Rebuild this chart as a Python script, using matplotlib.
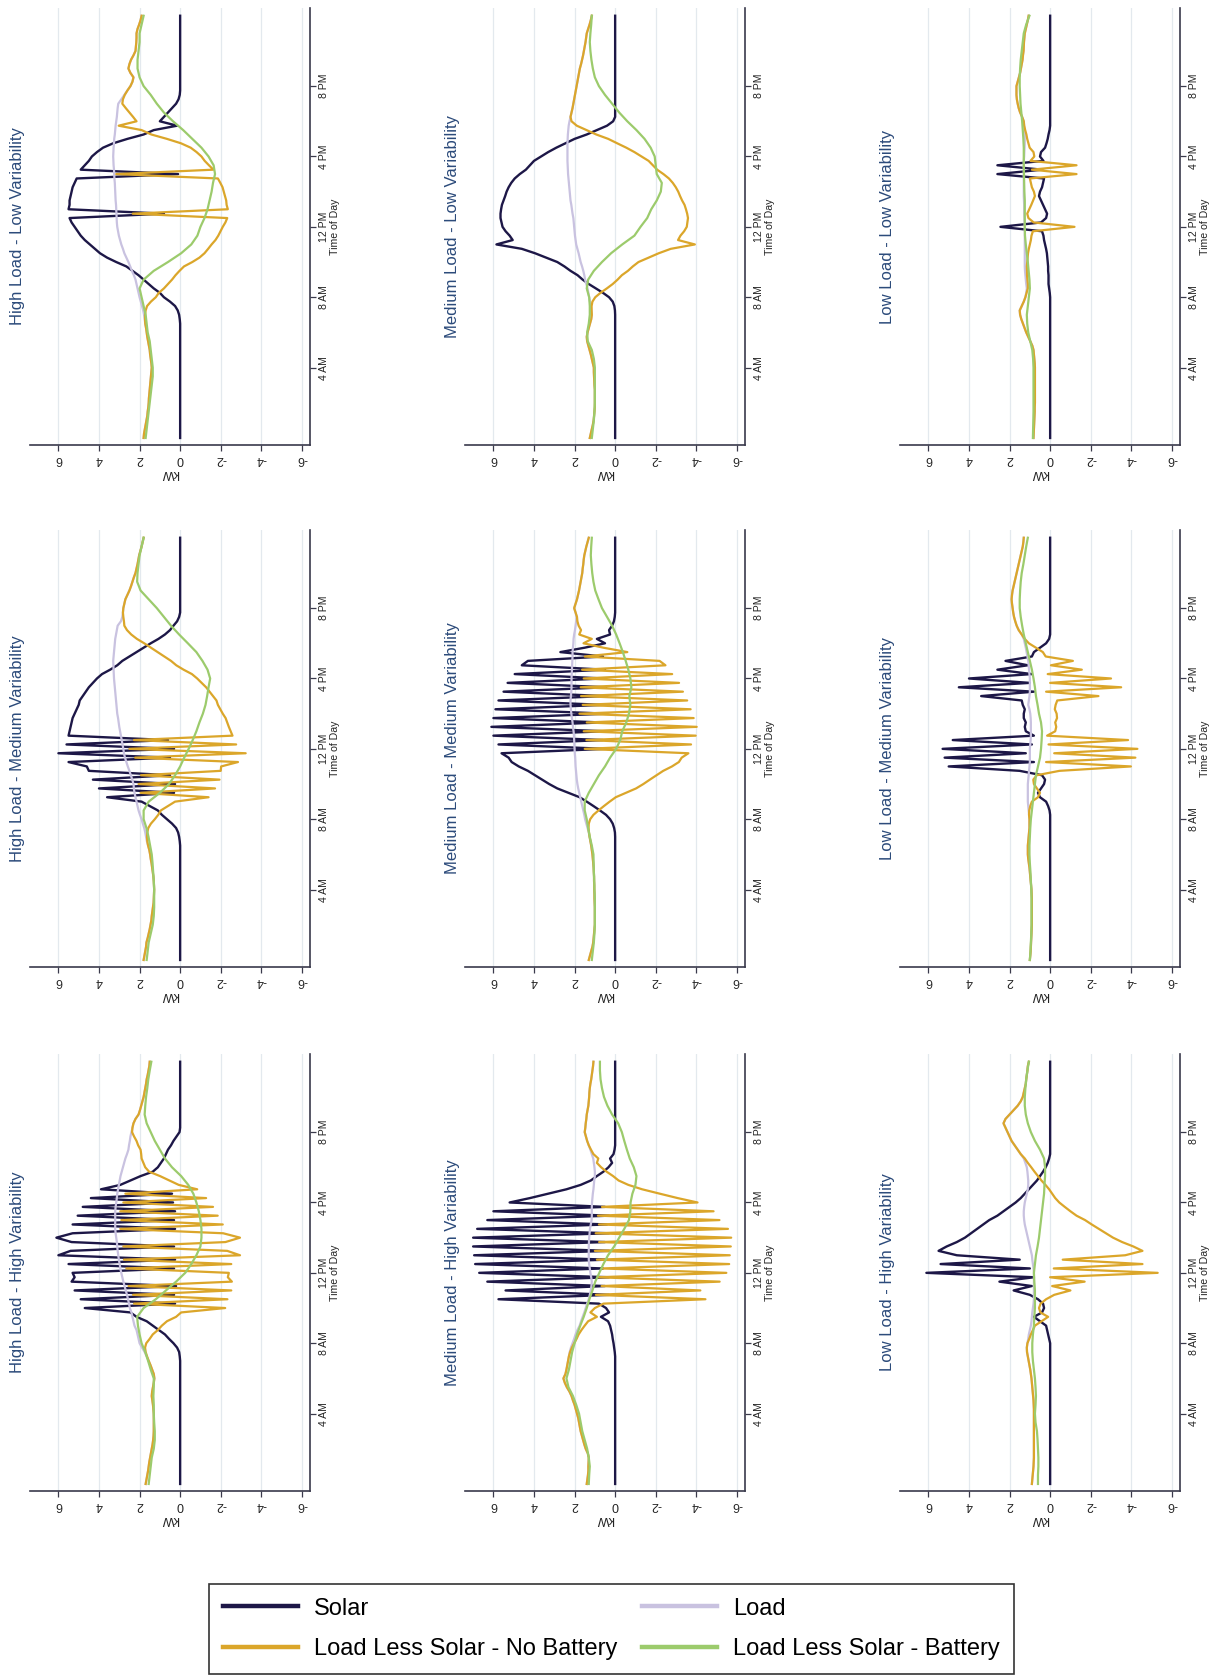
import numpy as np
import matplotlib.pyplot as plt
from matplotlib import font_manager
from matplotlib.lines import Line2D

plt.rcParams['font.family'] = 'Liberation Sans'

# Datos: carga y solar cada 15 min (0h-24h), bateria cada 30 min, en kW
# solar solo durante el dia: lista + hora de inicio

# --- High Load - Low Variability
load_hl_lv = [1.80, 1.78, 1.74, 1.70,  1.66, 1.62, 1.60, 1.57,  1.55, 1.54, 1.52, 1.50,
              1.48, 1.46, 1.44, 1.42,  1.40, 1.42, 1.45, 1.48,  1.50, 1.54, 1.58, 1.62,
              1.65, 1.68, 1.72, 1.75,  1.78, 1.82, 1.88, 1.94,  2.00, 2.05, 2.10, 2.15,
              2.20, 2.28, 2.38, 2.46,  2.55, 2.65, 2.75, 2.82,  2.90, 2.96, 3.02, 3.06,
              3.10, 3.12, 3.13, 3.14,  3.15, 3.16, 3.18, 3.19,  3.20, 3.21, 3.22, 3.24,
              3.25, 3.26, 3.28, 3.29,  3.30, 3.29, 3.28, 3.26,  3.25, 3.22, 3.20, 3.18,
              3.15, 3.12, 3.10, 3.08,  3.05, 2.90, 2.75, 2.60,  2.45, 2.35, 2.30, 2.45,
              2.55, 2.50, 2.42, 2.30,  2.20, 2.18, 2.16, 2.15,  2.15, 2.10, 2.02, 1.95,
              1.90]
solar_start_hl_lv = 6.75
solar_hl_lv = [0.02, 0.05, 0.12, 0.25, 0.5,
               0.8, 1.0, 1.3, 1.55,  1.8, 2.05, 2.35, 2.65,  3.15, 3.6, 3.95, 4.2,
               4.45, 4.7, 4.9, 5.05,  5.2, 5.35, 5.45, 0.8,  5.5, 5.45, 5.45, 5.4,
               5.35, 5.3, 5.2, 5.1,  0.1, 4.9, 4.7, 4.5,  4.35, 4.1, 3.8, 3.3,
               2.6, 1.8, 1.3, 0.15,  1.0, 0.8, 0.6, 0.4,  0.2, 0.08, 0.02, 0.0]
batt_hl_lv = [1.7, 1.65, 1.6, 1.55, 1.5, 1.45, 1.4, 1.35, 1.35, 1.4, 1.45, 1.5,
              1.6, 1.65, 1.7, 1.8, 1.9, 2.0, 1.8, 1.3, 0.6, -0.05, -0.55, -0.85,
              -1.0, -1.2, -1.35, -1.45, -1.55, -1.62, -1.72, -1.65, -1.4, -1.05, -0.6, -0.15,
              0.35, 0.8, 1.15, 1.45, 1.8, 2.0, 2.1, 2.1, 2.05, 2.0, 2.0, 1.9, 1.8]

# --- Medium Load - Low Variability
load_ml_lv = [1.25, 1.20, 1.15, 1.10,  1.06, 1.04, 1.02, 1.00,  1.00, 1.00, 1.00, 1.00,
              1.02, 1.03, 1.04, 1.05,  1.05, 1.10, 1.15, 1.20,  1.26, 1.32, 1.38, 1.40,
              1.36, 1.30, 1.24, 1.18,  1.15, 1.17, 1.20, 1.24,  1.28, 1.32, 1.36, 1.42,
              1.48, 1.52, 1.57, 1.63,  1.70, 1.75, 1.80, 1.86,  1.92, 1.95, 1.98, 2.00,
              2.02, 2.04, 2.06, 2.10,  2.13, 2.16, 2.20, 2.22,  2.24, 2.26, 2.28, 2.30,
              2.32, 2.33, 2.34, 2.35,  2.35, 2.35, 2.35, 2.35,  2.34, 2.33, 2.31, 2.29,
              2.25, 2.20, 2.15, 2.10,  2.06, 2.02, 1.98, 1.94,  1.90, 1.86, 1.82, 1.78,
              1.74, 1.68, 1.63, 1.58,  1.54, 1.50, 1.46, 1.43,  1.40, 1.33, 1.26, 1.20,
              1.15]
solar_start_ml_lv = 7.25
solar_ml_lv = [0.01, 0.04, 0.12,
               0.3, 0.6, 0.95, 1.3,  1.6, 1.85, 2.2, 2.5,  2.85, 3.4, 3.95, 4.6,
               5.85, 5.05, 5.2, 5.4,  5.55, 5.6, 5.65, 5.65,  5.62, 5.58, 5.5, 5.42,
               5.35, 5.25, 5.12, 4.95,  4.7, 4.4, 4.2, 4.0,  3.65, 3.3, 2.9, 2.45,
               2.0, 1.4, 0.9, 0.4,  0.1, 0.0]
batt_ml_lv = [1.15, 1.1, 1.05, 1.02, 1.0, 1.0, 1.0, 1.0, 1.0, 1.05, 1.15, 1.35,
              1.38, 1.3, 1.25, 1.25, 1.28, 1.4, 1.33, 1.05, 0.65, 0.2, -0.35, -0.95,
              -1.25, -1.58, -1.78, -2.05, -2.25, -2.3, -2.05, -2.0, -1.95, -1.75, -1.45, -1.05,
              -0.6, -0.2, 0.15, 0.5, 0.8, 1.0, 1.1, 1.17, 1.22, 1.25, 1.22, 1.18, 1.15]

# --- Low Load - Low Variability
load_ll_lv = [0.82, 0.81, 0.80, 0.79,  0.78, 0.77, 0.76, 0.76,  0.75, 0.75, 0.75, 0.75,
              0.75, 0.75, 0.75, 0.75,  0.75, 0.76, 0.78, 0.80,  0.82, 0.88, 0.98, 1.08,
              1.18, 1.26, 1.34, 1.42,  1.48, 1.50, 1.40, 1.30,  1.22, 1.18, 1.15, 1.18,
              1.20, 1.22, 1.24, 1.25,  1.25, 1.25, 1.25, 1.25,  1.25, 1.25, 1.25, 1.25,
              1.25, 1.26, 1.27, 1.28,  1.28, 1.28, 1.29, 1.30,  1.30, 1.30, 1.30, 1.30,
              1.30, 1.30, 1.30, 1.30,  1.28, 1.27, 1.26, 1.25,  1.25, 1.25, 1.26, 1.28,
              1.30, 1.38, 1.48, 1.55,  1.60, 1.64, 1.66, 1.66,  1.66, 1.60, 1.54, 1.48,
              1.44, 1.40, 1.36, 1.34,  1.31, 1.30, 1.29, 1.27,  1.25, 1.20, 1.15, 1.10,
              1.06]
solar_start_ll_lv = 8.25
solar_ll_lv = [0.02, 0.05, 0.08,
               0.08, 0.08, 0.1, 0.1,  0.12, 0.14, 0.16, 0.2,  0.25, 0.3, 0.33, 0.4,
               2.45, 0.45, 0.2, 0.15,  0.25, 0.35, 0.45, 0.55,  0.5, 0.4, 0.35, 0.3,
               2.6, 0.4, 2.6, 0.33,  0.5, 0.45, 0.25, 0.18,  0.12, 0.08, 0.03, 0.0]
batt_ll_lv = [0.85, 0.84, 0.83, 0.82, 0.82, 0.82, 0.82, 0.82, 0.82, 0.84, 0.88, 0.98,
              1.08, 1.13, 1.15, 1.1, 1.05, 1.0, 1.02, 1.06, 1.1, 1.15, 1.2, 1.24,
              1.25, 1.25, 1.25, 1.25, 1.27, 1.28, 1.29, 1.3, 1.3, 1.3, 1.32, 1.35,
              1.38, 1.42, 1.46, 1.48, 1.5, 1.5, 1.48, 1.45, 1.4, 1.35, 1.3, 1.18, 1.02]

# --- High Load - Medium Variability
load_hl_mv = [1.80, 1.76, 1.72, 1.68,  1.66, 1.60, 1.55, 1.50,  1.46, 1.42, 1.40, 1.37,
              1.34, 1.31, 1.30, 1.29,  1.28, 1.29, 1.30, 1.32,  1.35, 1.38, 1.41, 1.45,
              1.48, 1.52, 1.58, 1.64,  1.68, 1.72, 1.77, 1.84,  1.90, 1.98, 2.05, 2.10,
              2.15, 2.20, 2.25, 2.28,  2.30, 2.36, 2.43, 2.50,  2.58, 2.65, 2.72, 2.77,
              2.80, 2.84, 2.88, 2.92,  2.96, 3.00, 3.03, 3.06,  3.10, 3.12, 3.14, 3.16,
              3.18, 3.20, 3.22, 3.24,  3.26, 3.27, 3.28, 3.29,  3.30, 3.28, 3.26, 3.24,
              3.22, 3.20, 3.16, 3.12,  3.08, 2.92, 2.85, 2.82,  2.80, 2.75, 2.70, 2.60,
              2.50, 2.42, 2.35, 2.28,  2.20, 2.15, 2.10, 2.06,  2.02, 1.96, 1.90, 1.85,
              1.80]
solar_start_hl_mv = 6.75
solar_hl_mv = [0.02, 0.05, 0.1, 0.2, 0.4,
               0.65, 0.9, 1.1, 1.5,  1.9, 3.6, 0.3, 4.0,  0.25, 4.3, 0.5, 4.5,
               4.6, 5.5, 0.5, 6.0,  0.3, 5.6, 0.6, 5.5,  5.45, 5.4, 5.35, 5.3,
               5.2, 5.1, 5.0, 4.95,  4.8, 4.65, 4.5, 4.3,  4.1, 3.85, 3.45, 3.1,
               2.85, 2.5, 2.15, 1.8,  1.45, 1.07, 0.75, 0.5,  0.33, 0.15, 0.05, 0.0]
batt_hl_mv = [1.65, 1.6, 1.55, 1.45, 1.35, 1.3, 1.28, 1.28, 1.28, 1.3, 1.33, 1.36,
              1.4, 1.48, 1.56, 1.66, 1.8, 1.8, 1.55, 1.0, 0.55, 0.25, 0.0, -0.2,
              -0.42, -0.62, -0.8, -0.95, -1.12, -1.25, -1.33, -1.4, -1.48, -1.35, -1.1, -0.8,
              -0.38, 0.05, 0.45, 0.8, 1.15, 1.55, 1.95, 2.12, 2.1, 2.05, 2.0, 1.9, 1.8]

# --- Medium Load - Medium Variability
load_ml_mv = [1.30, 1.24, 1.18, 1.12,  1.08, 1.06, 1.04, 1.02,  1.00, 1.00, 1.00, 1.00,
              1.00, 1.01, 1.02, 1.02,  1.03, 1.03, 1.04, 1.04,  1.05, 1.06, 1.08, 1.10,
              1.12, 1.15, 1.18, 1.22,  1.26, 1.30, 1.36, 1.42,  1.48, 1.52, 1.57, 1.62,
              1.67, 1.72, 1.77, 1.82,  1.86, 1.89, 1.91, 1.93,  1.95, 1.96, 1.97, 1.99,
              2.00, 2.01, 2.02, 2.03,  2.05, 2.08, 2.10, 2.13,  2.16, 2.18, 2.20, 2.20,
              2.18, 2.16, 2.15, 2.15,  2.15, 2.14, 2.13, 2.12,  2.11, 2.10, 2.10, 2.08,
              2.06, 2.05, 2.02, 1.98,  1.95, 1.92, 1.90, 1.95,  2.02, 1.95, 1.88, 1.83,
              1.78, 1.74, 1.70, 1.66,  1.62, 1.60, 1.57, 1.55,  1.52, 1.47, 1.42, 1.36,
              1.30]
solar_start_ml_mv = 7.25
solar_ml_mv = [0.01, 0.05, 0.12,
               0.25, 0.45, 0.75, 1.07,  1.4, 1.75, 2.3, 2.85,  3.25, 3.6, 3.95, 4.3,
               4.75, 5.1, 5.25, 5.6,  0.5, 5.75, 0.6, 6.0,  0.5, 6.1, 0.7, 6.0,
               0.4, 5.9, 0.6, 5.75,  0.5, 5.5, 0.45, 5.3,  0.6, 4.95, 0.5, 4.6,
               4.3, 0.6, 2.7, 1.5,  0.5, 0.9, 0.25, 0.3,  0.15, 0.06, 0.02, 0.0]
batt_ml_mv = [1.15, 1.1, 1.05, 1.02, 1.0, 1.0, 1.0, 1.0, 1.02, 1.03, 1.05, 1.06,
              1.07, 1.15, 1.25, 1.33, 1.4, 1.5, 1.5, 1.3, 1.05, 0.8, 0.5, 0.25,
              -0.05, -0.25, -0.35, -0.55, -0.68, -0.75, -0.7, -0.8, -0.75, -0.65, -0.52, -0.38,
              -0.22, -0.05, 0.15, 0.4, 0.65, 0.82, 0.98, 1.07, 1.13, 1.17, 1.2, 1.18, 1.15]

# --- Low Load - Medium Variability
load_ll_mv = [1.00, 0.98, 0.96, 0.95,  0.94, 0.93, 0.92, 0.91,  0.90, 0.90, 0.90, 0.90,
              0.90, 0.90, 0.90, 0.91,  0.92, 0.94, 0.96, 0.98,  1.00, 1.02, 1.05, 1.08,
              1.10, 1.10, 1.10, 1.08,  1.06, 1.04, 1.02, 1.02,  1.02, 1.04, 1.06, 1.08,
              1.10, 1.10, 1.10, 1.10,  1.10, 1.08, 1.06, 1.04,  1.02, 1.00, 1.00, 1.00,
              1.00, 0.98, 0.96, 0.95,  0.95, 0.95, 0.95, 0.96,  0.98, 1.02, 1.08, 1.05,
              1.02, 1.00, 1.00, 1.00,  1.00, 1.02, 1.04, 1.06,  1.08, 1.12, 1.16, 1.20,
              1.25, 1.30, 1.40, 1.55,  1.65, 1.72, 1.78, 1.82,  1.85, 1.88, 1.90, 1.88,
              1.85, 1.80, 1.75, 1.70,  1.65, 1.60, 1.55, 1.50,  1.45, 1.40, 1.35, 1.32,
              1.30]
solar_start_ll_mv = 8.5
solar_ll_mv = [0.03, 0.1,
               0.2, 0.5, 0.6, 0.45,  0.3, 0.25, 0.4, 1.5,  5.0, 0.8, 5.2, 1.2,
               5.3, 0.9, 4.8, 0.8,  1.2, 1.25, 1.2, 1.3,  1.3, 1.25, 1.35, 1.4,
               3.4, 0.8, 4.5, 1.0,  4.0, 0.9, 2.6, 1.1,  2.2, 0.9, 0.8, 0.5,
               0.2, 0.05, 0.0]
batt_ll_mv = [1.0, 0.97, 0.95, 0.93, 0.92, 0.92, 0.92, 0.92, 0.93, 0.95, 0.97, 1.0,
              1.02, 1.02, 1.0, 0.98, 0.95, 0.9, 0.85, 0.8, 0.75, 0.7, 0.6, 0.5,
              0.45, 0.42, 0.4, 0.45, 0.55, 0.62, 0.7, 0.75, 0.82, 0.9, 1.0, 1.1,
              1.2, 1.3, 1.38, 1.45, 1.5, 1.5, 1.48, 1.45, 1.4, 1.32, 1.25, 1.18, 1.1]

# --- High Load - High Variability
load_hl_hv = [1.70, 1.66, 1.62, 1.58,  1.55, 1.52, 1.48, 1.44,  1.40, 1.36, 1.33, 1.31,
              1.30, 1.30, 1.30, 1.30,  1.30, 1.32, 1.34, 1.37,  1.40, 1.38, 1.34, 1.30,
              1.27, 1.30, 1.38, 1.46,  1.55, 1.65, 1.75, 1.88,  2.00, 2.05, 2.10, 2.15,
              2.25, 2.30, 2.35, 2.40,  2.48, 2.52, 2.57, 2.62,  2.68, 2.74, 2.80, 2.85,
              2.90, 2.95, 2.98, 3.02,  3.05, 3.08, 3.10, 3.12,  3.15, 3.18, 3.20, 3.20,
              3.20, 3.20, 3.20, 3.18,  3.15, 3.12, 3.10, 3.06,  3.02, 2.98, 2.94, 2.88,
              2.82, 2.76, 2.70, 2.62,  2.55, 2.52, 2.48, 2.45,  2.40, 2.35, 2.30, 2.20,
              2.05, 1.98, 1.92, 1.86,  1.80, 1.76, 1.72, 1.68,  1.65, 1.60, 1.56, 1.52,
              1.50]
solar_start_hl_hv = 7.25
solar_hl_hv = [0.02, 0.05, 0.15,
               0.33, 0.55, 0.75, 1.05,  1.35, 1.65, 2.15, 2.45,  4.7, 0.25, 4.9, 0.3,
               5.2, 0.2, 5.35, 5.2,  5.3, 0.3, 5.5, 0.25,  6.0, 5.4, 0.3, 5.35,
               6.1, 5.3, 0.25, 5.3,  0.3, 5.05, 0.25, 4.8,  0.35, 4.4, 0.4, 3.9,
               2.95, 2.45, 1.95, 1.35,  1.1, 0.95, 0.8, 0.7,  0.6, 0.45, 0.33, 0.18,
               0.03, 0.0]
batt_hl_hv = [1.55, 1.5, 1.45, 1.4, 1.3, 1.25, 1.25, 1.28, 1.3, 1.3, 1.32, 1.3,
              1.3, 1.45, 1.58, 1.72, 1.9, 2.0, 2.08, 2.12, 1.8, 1.2, 0.7, 0.2,
              -0.25, -0.55, -0.8, -1.0, -1.05, -1.05, -1.0, -0.92, -0.8, -0.65, -0.4, -0.05,
              0.4, 0.75, 1.0, 1.25, 1.45, 1.65, 1.75, 1.72, 1.68, 1.62, 1.57, 1.5, 1.42]

# --- Medium Load - High Variability
load_ml_hv = [1.40, 1.37, 1.34, 1.32,  1.32, 1.31, 1.30, 1.35,  1.45, 1.52, 1.58, 1.64,
              1.70, 1.74, 1.78, 1.82,  1.88, 1.94, 2.00, 2.08,  2.15, 2.25, 2.38, 2.48,
              2.55, 2.45, 2.40, 2.36,  2.32, 2.28, 2.24, 2.18,  2.10, 2.02, 1.95, 1.86,
              1.75, 1.68, 1.60, 1.52,  1.45, 1.38, 1.30, 1.25,  1.20, 1.17, 1.15, 1.18,
              1.22, 1.25, 1.28, 1.30,  1.30, 1.30, 1.30, 1.29,  1.28, 1.26, 1.24, 1.20,
              1.16, 1.15, 1.15, 1.15,  1.14, 1.12, 1.10, 1.07,  1.05, 1.03, 1.00, 1.00,
              1.02, 1.05, 1.08, 1.15,  1.22, 1.30, 1.38, 1.44,  1.50, 1.47, 1.45, 1.42,
              1.40, 1.36, 1.32, 1.30,  1.28, 1.27, 1.25, 1.22,  1.18, 1.15, 1.12, 1.09,
              1.07]
solar_start_ml_hv = 7.5
solar_ml_hv = [0.02, 0.05,
               0.08, 0.12, 0.15, 0.2,  0.25, 0.35, 0.7, 0.3,  0.45, 0.8, 5.75, 0.3,
               5.4, 0.5, 6.3, 0.3,  6.7, 0.6, 6.9, 0.4,  6.95, 0.3, 7.0, 0.5,
               7.0, 0.3, 6.8, 0.4,  6.3, 0.3, 6.0, 0.5,  5.2, 4.2, 3.3, 2.4,
               1.7, 1.2, 0.9, 0.58,  0.33, 0.15, 0.25, 0.08,  0.03, 0.0]
batt_ml_hv = [1.3, 1.28, 1.25, 1.3, 1.38, 1.5, 1.62, 1.7, 1.78, 1.92, 2.08, 2.3,
              2.4, 2.28, 2.2, 2.12, 2.0, 1.88, 1.72, 1.55, 1.4, 1.27, 1.12, 0.98,
              0.78, 0.58, 0.35, 0.05, -0.2, -0.45, -0.68, -0.75, -0.76, -0.85, -1.0, -1.05,
              -0.92, -0.72, -0.58, -0.45, -0.33, -0.15, 0.15, 0.38, 0.55, 0.65, 0.72, 0.75, 0.75]

# --- Low Load - High Variability
load_ll_hv = [0.90, 0.88, 0.86, 0.84,  0.82, 0.81, 0.80, 0.80,  0.80, 0.80, 0.80, 0.80,
              0.80, 0.80, 0.80, 0.80,  0.80, 0.80, 0.81, 0.82,  0.84, 0.86, 0.88, 0.90,
              0.92, 0.95, 0.98, 1.02,  1.06, 1.10, 1.14, 1.15,  1.12, 1.08, 1.05, 1.00,
              0.95, 0.92, 0.90, 0.88,  0.85, 0.82, 0.80, 0.80,  0.80, 0.80, 0.80, 0.80,
              0.80, 0.82, 0.85, 0.88,  0.90, 0.95, 1.00, 1.05,  1.10, 1.15, 1.20, 1.25,
              1.28, 1.30, 1.30, 1.28,  1.25, 1.20, 1.15, 1.10,  1.08, 1.08, 1.10, 1.12,
              1.15, 1.22, 1.30, 1.45,  1.60, 1.75, 1.90, 2.00,  2.10, 2.20, 2.30, 2.20,
              2.00, 1.80, 1.60, 1.45,  1.35, 1.30, 1.25, 1.20,  1.18, 1.15, 1.12, 1.10,
              1.05]
solar_start_ll_hv = 8.25
solar_ll_hv = [0.05, 0.1, 0.15,
               0.2, 0.5, 0.8, 0.4,  0.3, 0.35, 0.6, 1.0,  1.8, 0.9, 2.5, 0.8,
               6.1, 1.0, 5.4, 1.5,  4.6, 5.5, 5.1, 4.6,  4.2, 3.9, 3.6, 3.3,
               3.0, 2.6, 2.3, 2.0,  1.7, 1.45, 1.25, 1.05,  0.85, 0.65, 0.5, 0.35,
               0.22, 0.12, 0.05, 0.0]
batt_ll_hv = [0.6, 0.6, 0.58, 0.58, 0.6, 0.62, 0.65, 0.72, 0.75, 0.72, 0.7, 0.72,
              0.75, 0.8, 0.85, 0.88, 0.88, 0.85, 0.8, 0.78, 0.75, 0.75, 0.75, 0.78,
              0.8, 0.75, 0.7, 0.62, 0.55, 0.5, 0.45, 0.4, 0.35, 0.3, 0.28, 0.25,
              0.25, 0.3, 0.5, 0.75, 0.95, 1.1, 1.2, 1.25, 1.25, 1.22, 1.18, 1.12, 1.05]

hour_ticks = [4, 8, 12, 16, 20]
hour_labels = ['4 AM', '8 AM', '12 PM', '4 PM', '8 PM']
kw_ticks = [6, 4, 2, 0, -2, -4, -6]
kw_labels = ['6', '4', '2', '0', '-2', '-4', '-6']

panels = [
    ('High Load - Low Variability', load_hl_lv, solar_hl_lv, solar_start_hl_lv, batt_hl_lv),
    ('Medium Load - Low Variability', load_ml_lv, solar_ml_lv, solar_start_ml_lv, batt_ml_lv),
    ('Low Load - Low Variability', load_ll_lv, solar_ll_lv, solar_start_ll_lv, batt_ll_lv),
    ('High Load - Medium Variability', load_hl_mv, solar_hl_mv, solar_start_hl_mv, batt_hl_mv),
    ('Medium Load - Medium Variability', load_ml_mv, solar_ml_mv, solar_start_ml_mv, batt_ml_mv),
    ('Low Load - Medium Variability', load_ll_mv, solar_ll_mv, solar_start_ll_mv, batt_ll_mv),
    ('High Load - High Variability', load_hl_hv, solar_hl_hv, solar_start_hl_hv, batt_hl_hv),
    ('Medium Load - High Variability', load_ml_hv, solar_ml_hv, solar_start_ml_hv, batt_ml_hv),
    ('Low Load - High Variability', load_ll_hv, solar_ll_hv, solar_start_ll_hv, batt_ll_hv),
]

c_solar = '#1d1747'
c_load = '#c9c2e0'
c_net = '#dba62a'
c_batt = '#9ccb6c'
c_axis = '#3a3a4c'
c_title = '#2b4a7a'

W, H = 1225, 1680
fig = plt.figure(figsize=(W / 100, H / 100), dpi=100)

col_left = [30, 465, 900]
row_top = [8, 530, 1054]
ax_w, ax_h = 280, 437

for k, (title, load, solar, start, batt) in enumerate(panels):
    r, c = divmod(k, 3)
    ax = fig.add_axes([col_left[c] / W, 1 - (row_top[r] + ax_h) / H, ax_w / W, ax_h / H])

    load = np.array(load)
    t = np.arange(len(load)) * 0.25
    sol = np.zeros(len(load))
    i0 = int(round(start * 4))
    sol[i0:i0 + len(solar)] = solar
    net = load - sol
    tb = np.arange(len(batt)) * 0.5

    ax.plot(sol, t, color=c_solar, lw=1.7, zorder=2)
    ax.plot(load, t, color=c_load, lw=1.6, zorder=3)
    ax.plot(net, t, color=c_net, lw=1.6, zorder=4)
    ax.plot(batt, tb, color=c_batt, lw=1.6, zorder=5)

    ax.set_xlim(7.4, -6.4)
    ax.set_ylim(-0.4, 24.44)

    for s in ['left', 'top']:
        ax.spines[s].set_visible(False)
    for s in ['bottom', 'right']:
        ax.spines[s].set_color(c_axis)
        ax.spines[s].set_linewidth(1.2)

    ax.set_xticks(kw_ticks)
    ax.set_xticklabels(kw_labels, rotation=180, fontsize=9, color='#222222')
    ax.set_xlabel('kW', rotation=180, fontsize=9, color='#222222', labelpad=1)
    ax.tick_params(axis='x', length=4, width=0.9, color=c_axis, pad=2)

    ax.yaxis.tick_right()
    ax.yaxis.set_label_position('right')
    ax.set_yticks(hour_ticks)
    ax.set_yticklabels(hour_labels, rotation=90, fontsize=7.6, color='#222222', va='center')
    ax.set_ylabel('Time of Day', rotation=90, fontsize=7.6, color='#222222', labelpad=1)
    ax.tick_params(axis='y', length=4, width=0.9, color=c_axis, pad=2.5)

    ax.grid(axis='x', color='#e3e9ee', lw=0.9)
    ax.set_axisbelow(True)

    ax.text(-0.043, 0.5, title, transform=ax.transAxes, rotation=90,
            ha='center', va='center', fontsize=12, color=c_title)

# Leyenda (horizontal, sin rotar)
names = {f.name for f in font_manager.fontManager.ttflist}
if 'Liberation Sans Narrow' in names:
    leg_family, leg_size = 'Liberation Sans Narrow', 20.5
else:
    leg_family, leg_size = 'Liberation Sans', 17
fs_px = leg_size * 100 / 72
text_h = 1.16 * fs_px

handles = [Line2D([], [], color=c_solar, lw=3.2),
           Line2D([], [], color=c_net, lw=3.2),
           Line2D([], [], color=c_load, lw=3.2),
           Line2D([], [], color=c_batt, lw=3.2)]
labels = ['Solar', 'Load Less Solar - No Battery', 'Load', 'Load Less Solar - Battery']

leg = fig.legend(handles, labels, ncol=2, mode='expand', loc='lower left',
                 bbox_to_anchor=(209 / W, 1 - 1674 / H, 805 / W, 101 / H),
                 prop={'family': leg_family, 'size': leg_size},
                 handlelength=75 / fs_px, handletextpad=16 / fs_px,
                 labelspacing=(46 - text_h) / fs_px,
                 borderpad=(55 - text_h) / (2 * fs_px), borderaxespad=0,
                 fancybox=False, framealpha=1, edgecolor='#333333')
leg.get_frame().set_linewidth(1.2)

fig.savefig('out.png', dpi=100)
